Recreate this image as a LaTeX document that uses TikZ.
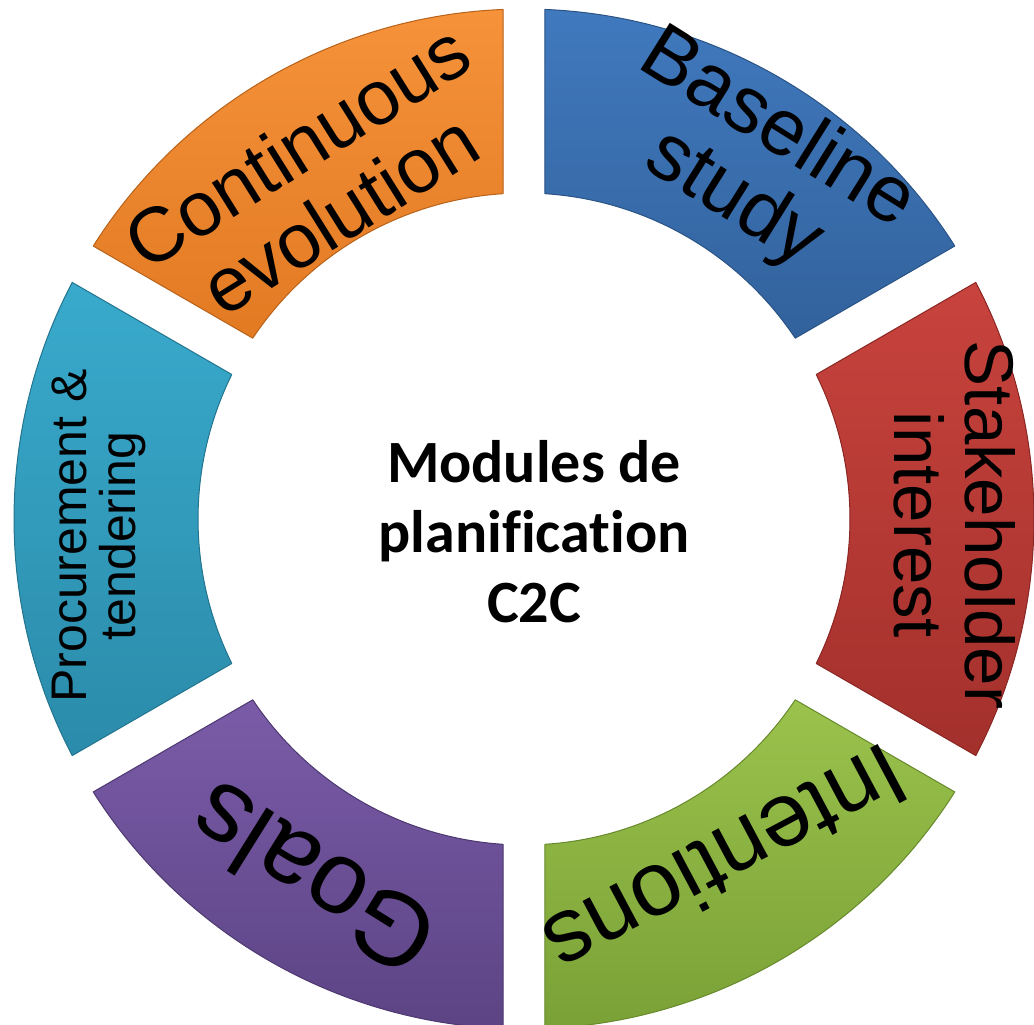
\documentclass[tikz,border=0pt]{standalone}
\usepackage{fontspec}
\setmainfont{Liberation Sans}
\newfontfamily\calibri[Ligatures=NoCommon]{Carlito}
\definecolor{blueT}{HTML}{4079BE}\definecolor{blueB}{HTML}{32629C}\definecolor{blueD}{HTML}{2A5386}
\definecolor{redT}{HTML}{C8433D}\definecolor{redB}{HTML}{A3302C}\definecolor{redD}{HTML}{8A2724}
\definecolor{grnT}{HTML}{9AC24C}\definecolor{grnB}{HTML}{7AA136}\definecolor{grnD}{HTML}{678A2C}
\definecolor{purT}{HTML}{7A5BA8}\definecolor{purB}{HTML}{5C4484}\definecolor{purD}{HTML}{4D3870}
\definecolor{cyaT}{HTML}{39AACC}\definecolor{cyaB}{HTML}{2B8BAA}\definecolor{cyaD}{HTML}{23758F}
\definecolor{orgT}{HTML}{F5923A}\definecolor{orgB}{HTML}{E27A22}\definecolor{orgD}{HTML}{B8621A}
\tikzset{
  segtext/.style={inner sep=0pt, align=center, text=black},
  shadowfill/.style={fill=black, opacity=0.16},
}
% #1 start angle (larger), #2 end angle, #3 top colour, #4 bottom colour, #5 border colour
\newcommand\ringseg[5]{%
  \begin{scope}[shift={(3,-4)}]
    \fill[shadowfill] ([shift={(#1-2.36:510pt)}]C) arc[start angle=#1-2.36, end angle=#2+2.36, radius=510pt]
      -- ([shift={(#2+3.69:326pt)}]C) arc[start angle=#2+3.69, end angle=#1-3.69, radius=326pt] -- cycle;
  \end{scope}
  \path[top color=#3, bottom color=#4, draw=#5, line width=1pt, line join=round]
    ([shift={(#1-2.36:510pt)}]C) arc[start angle=#1-2.36, end angle=#2+2.36, radius=510pt]
    -- ([shift={(#2+3.69:326pt)}]C) arc[start angle=#2+3.69, end angle=#1-3.69, radius=326pt] -- cycle;
}
\begin{document}
\begin{tikzpicture}[x=1pt, y=1pt]
\useasboundingbox (0,0) rectangle (1034,1025);
\coordinate (C) at (524,506);
\ringseg{90}{30}{blueT}{blueB}{blueD}
\ringseg{30}{-30}{redT}{redB}{redD}
\ringseg{-30}{-90}{grnT}{grnB}{grnD}
\ringseg{-90}{-150}{purT}{purB}{purD}
\ringseg{210}{150}{cyaT}{cyaB}{cyaD}
\ringseg{150}{90}{orgT}{orgB}{orgD}

\node[segtext, rotate=-32, font=\fontsize{80}{82}\selectfont] (baseline) at (755,860) {Baseline\\study};
\node[segtext, rotate=-90, font=\fontsize{69}{71}\selectfont] (stake) at (955,500) {Stakeholder\\interest};
\node[segtext, rotate=-152, font=\fontsize{91}{91}\selectfont] (intent) at (727,163) {Intentions};
\node[segtext, rotate=148, font=\fontsize{103}{103}\selectfont] (goals) at (312,145) {Goals};
\node[segtext, rotate=90, font=\fontsize{50}{49}\selectfont] (proc) at (99,489) {Procurement \&\\tendering};
\node[segtext, rotate=32, font=\fontsize{77}{80}\selectfont] (cont) at (318,845) {Continuous\\evolution};

\node[segtext, font=\calibri\bfseries\fontsize{60}{70}\selectfont] (center) at (534,493) {Modules de\\planification\\C2C};
\end{tikzpicture}
\end{document}
